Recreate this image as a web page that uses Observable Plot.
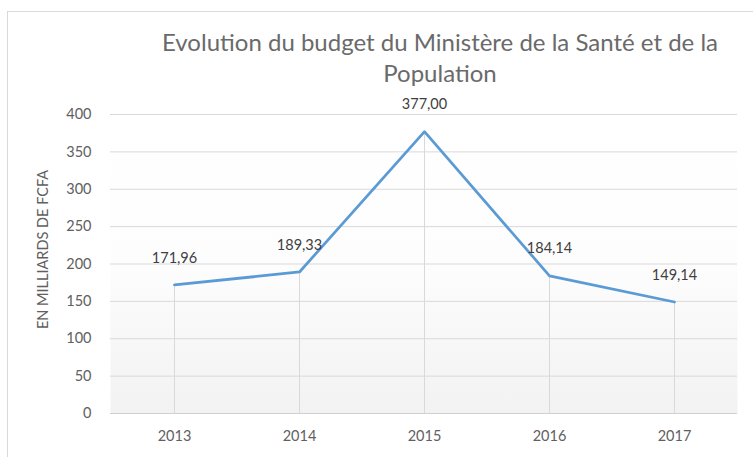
<!DOCTYPE html>
<html>
<head>
<meta charset="utf-8">
<script src="https://cdn.jsdelivr.net/npm/d3@7"></script>
<script src="https://cdn.jsdelivr.net/npm/@observablehq/plot@0.6"></script>
<style>
  html, body { margin: 0; padding: 0; background: #fff; }
  #wrap { position: relative; width: 753px; height: 457px; overflow: hidden; font-family: Lato, "Open Sans", sans-serif; }
  #border { position: absolute; left: 7px; top: 11px; width: 760px; height: 460px; border: 1px solid #d9d9d9; box-sizing: border-box; }
  #title { position: absolute; left: 120px; width: 640px; top: 26px; text-align: center; font-size: 24px; line-height: 31px; color: #6a6a6a; }
  #chart { position: absolute; left: 0; top: 95px; }
</style>
</head>
<body>
<div id="wrap">
  <div id="border"></div>
  <div id="title">Evolution du budget du Ministère de la Santé et de la<br>Population</div>
  <div id="chart"></div>
</div>
<script>
const years = ["2013", "2014", "2015", "2016", "2017"];
const budget = [171.96, 189.33, 377.00, 184.14, 149.14];
const yTicks = [0, 50, 100, 150, 200, 250, 300, 350, 400];
const yLabel = "EN MILLIARDS DE FCFA";

const data = years.map((y, i) => ({year: y, value: budget[i]}));
const fmt = v => d3.format(".2f")(v).replace(".", ",");

const chart = Plot.plot({
  width: 753,
  height: 362,
  marginLeft: 110,
  marginRight: 16,
  marginTop: 19,
  marginBottom: 44,
  style: {fontFamily: "Lato, 'Open Sans', sans-serif", fontSize: "14.5px", color: "#606060", background: "transparent"},
  x: {type: "point", domain: years, padding: 0.5, label: null, tickSize: 0, tickPadding: 17},
  y: {domain: [0, 400], ticks: yTicks, label: null, tickSize: 0, tickPadding: 19},
  marks: [
    Plot.frame({fill: "url(#bggrad)", stroke: null}),
    Plot.gridY(yTicks, {stroke: "#d9d9d9", strokeOpacity: 1, strokeWidth: 1}),
    Plot.ruleX(data, {x: "year", y1: 0, y2: "value", stroke: "#d9d9d9", strokeWidth: 1}),
    Plot.ruleY([0], {stroke: "#d0d0d0", strokeWidth: 1}),
    Plot.line(data, {x: "year", y: "value", stroke: "#5b9bd5", strokeWidth: 2.75, strokeLinejoin: "round", strokeLinecap: "round"}),
    Plot.text(data, {x: "year", y: "value", text: d => fmt(d.value), dy: -27, fill: "#404040", fontSize: 14.5}),
    Plot.text([yLabel], {frameAnchor: "left", dx: -67, dy: -14.5, rotate: -90, textAnchor: "middle", lineAnchor: "middle", fill: "#606060", fontSize: 14.5})
  ]
});

const defs = document.createElementNS("http://www.w3.org/2000/svg", "defs");
defs.innerHTML = '<linearGradient id="bggrad" x1="0" y1="0" x2="0" y2="1"><stop offset="0" stop-color="#ffffff"/><stop offset="0.5" stop-color="#fdfdfd"/><stop offset="1" stop-color="#f2f2f2"/></linearGradient>';
chart.insertBefore(defs, chart.firstChild);
document.getElementById("chart").appendChild(chart);
</script>
</body>
</html>
